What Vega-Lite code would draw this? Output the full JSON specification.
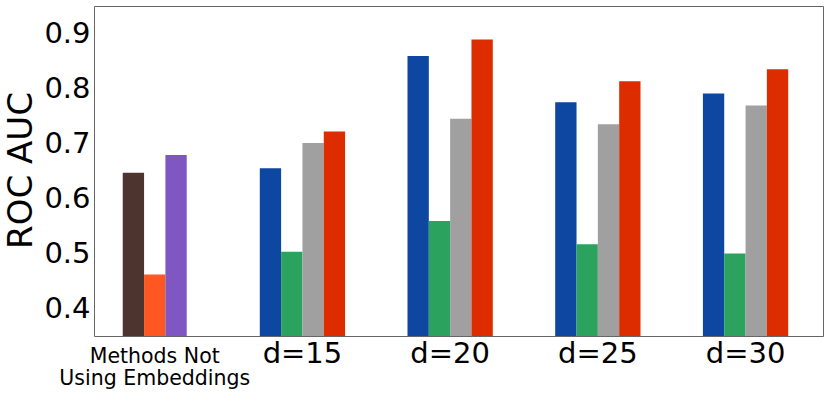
{
  "$schema": "https://vega.github.io/schema/vega-lite/v6.json",
  "width": 729,
  "height": 330,
  "autosize": {"type": "none"},
  "padding": {"left": 94, "top": 6, "right": 7, "bottom": 71},
  "config": {"view": {"stroke": "#666", "strokeWidth": 1}, "font": "DejaVu Sans"},
  "data": {
    "values": [
      {"group": "Methods Not Using Embeddings", "kind": "none", "method": "Baseline 1", "value": 0.647},
      {"group": "Methods Not Using Embeddings", "kind": "none", "method": "Baseline 2", "value": 0.462},
      {"group": "Methods Not Using Embeddings", "kind": "none", "method": "Baseline 3", "value": 0.679},
      {"group": "d=15", "kind": "emb", "method": "Embedding 1", "value": 0.655},
      {"group": "d=15", "kind": "emb", "method": "Embedding 2", "value": 0.503},
      {"group": "d=15", "kind": "emb", "method": "Embedding 3", "value": 0.701},
      {"group": "d=15", "kind": "emb", "method": "Embedding 4", "value": 0.722},
      {"group": "d=20", "kind": "emb", "method": "Embedding 1", "value": 0.859},
      {"group": "d=20", "kind": "emb", "method": "Embedding 2", "value": 0.559},
      {"group": "d=20", "kind": "emb", "method": "Embedding 3", "value": 0.745},
      {"group": "d=20", "kind": "emb", "method": "Embedding 4", "value": 0.889},
      {"group": "d=25", "kind": "emb", "method": "Embedding 1", "value": 0.775},
      {"group": "d=25", "kind": "emb", "method": "Embedding 2", "value": 0.517},
      {"group": "d=25", "kind": "emb", "method": "Embedding 3", "value": 0.735},
      {"group": "d=25", "kind": "emb", "method": "Embedding 4", "value": 0.813},
      {"group": "d=30", "kind": "emb", "method": "Embedding 1", "value": 0.791},
      {"group": "d=30", "kind": "emb", "method": "Embedding 2", "value": 0.500},
      {"group": "d=30", "kind": "emb", "method": "Embedding 3", "value": 0.769},
      {"group": "d=30", "kind": "emb", "method": "Embedding 4", "value": 0.835}
    ]
  },
  "encoding": {
    "x": {
      "field": "group",
      "type": "nominal",
      "sort": ["Methods Not Using Embeddings", "d=15", "d=20", "d=25", "d=30"],
      "scale": {"paddingInner": 0.4225, "paddingOuter": 0.179, "align": 0.342},
      "axis": {
        "title": null,
        "labelAngle": 0,
        "ticks": false,
        "domain": false,
        "labelFont": "DejaVu Sans",
        "labelColor": "black",
        "labelFontSize": {"condition": {"test": "datum.value == 'Methods Not Using Embeddings'", "value": 20.5}, "value": 29},
        "labelExpr": "datum.value == 'Methods Not Using Embeddings' ? ['Methods Not', 'Using Embeddings'] : datum.value",
        "labelBaseline": "alphabetic",
        "labelPadding": 26,
        "labelLineHeight": 22,
        "labelLimit": 400
      }
    },
    "y": {
      "field": "value",
      "type": "quantitative",
      "scale": {"domain": [0.35, 0.95], "nice": false, "zero": false},
      "axis": {
        "title": "ROC AUC",
        "values": [0.4, 0.5, 0.6, 0.7, 0.8, 0.9],
        "format": ".1f",
        "grid": false,
        "ticks": false,
        "domain": false,
        "labelFont": "DejaVu Sans",
        "labelFontSize": 29,
        "labelPadding": 4,
        "labelColor": "black",
        "titleFont": "DejaVu Sans",
        "titleFontSize": 34,
        "titleFontWeight": "normal",
        "titleColor": "black",
        "titleX": -63,
        "titleY": 164,
        "titleAngle": -90,
        "titleBaseline": "alphabetic",
        "titleAlign": "center"
      }
    }
  },
  "layer": [
    {
      "transform": [{"filter": "datum.kind == 'none'"}],
      "mark": {"type": "bar", "clip": true},
      "encoding": {
        "xOffset": {
          "field": "method",
          "type": "nominal",
          "sort": ["Baseline 1", "Baseline 2", "Baseline 3"],
          "scale": {"paddingOuter": 0.5, "paddingInner": 0}
        },
        "color": {
          "field": "method",
          "type": "nominal",
          "scale": {"domain": ["Baseline 1", "Baseline 2", "Baseline 3"], "range": ["#4e342e", "#ff5722", "#7e57c2"]},
          "legend": null
        }
      }
    },
    {
      "transform": [{"filter": "datum.kind == 'emb'"}],
      "mark": {"type": "bar", "clip": true},
      "encoding": {
        "xOffset": {
          "field": "method",
          "type": "nominal",
          "sort": ["Embedding 1", "Embedding 2", "Embedding 3", "Embedding 4"],
          "scale": {"paddingOuter": 0, "paddingInner": 0}
        },
        "color": {
          "field": "method",
          "type": "nominal",
          "scale": {"domain": ["Embedding 1", "Embedding 2", "Embedding 3", "Embedding 4"], "range": ["#0d47a1", "#2ca25f", "#a0a0a0", "#dd2c00"]},
          "legend": null
        }
      }
    }
  ],
  "resolve": {"scale": {"xOffset": "independent", "color": "independent"}}
}
